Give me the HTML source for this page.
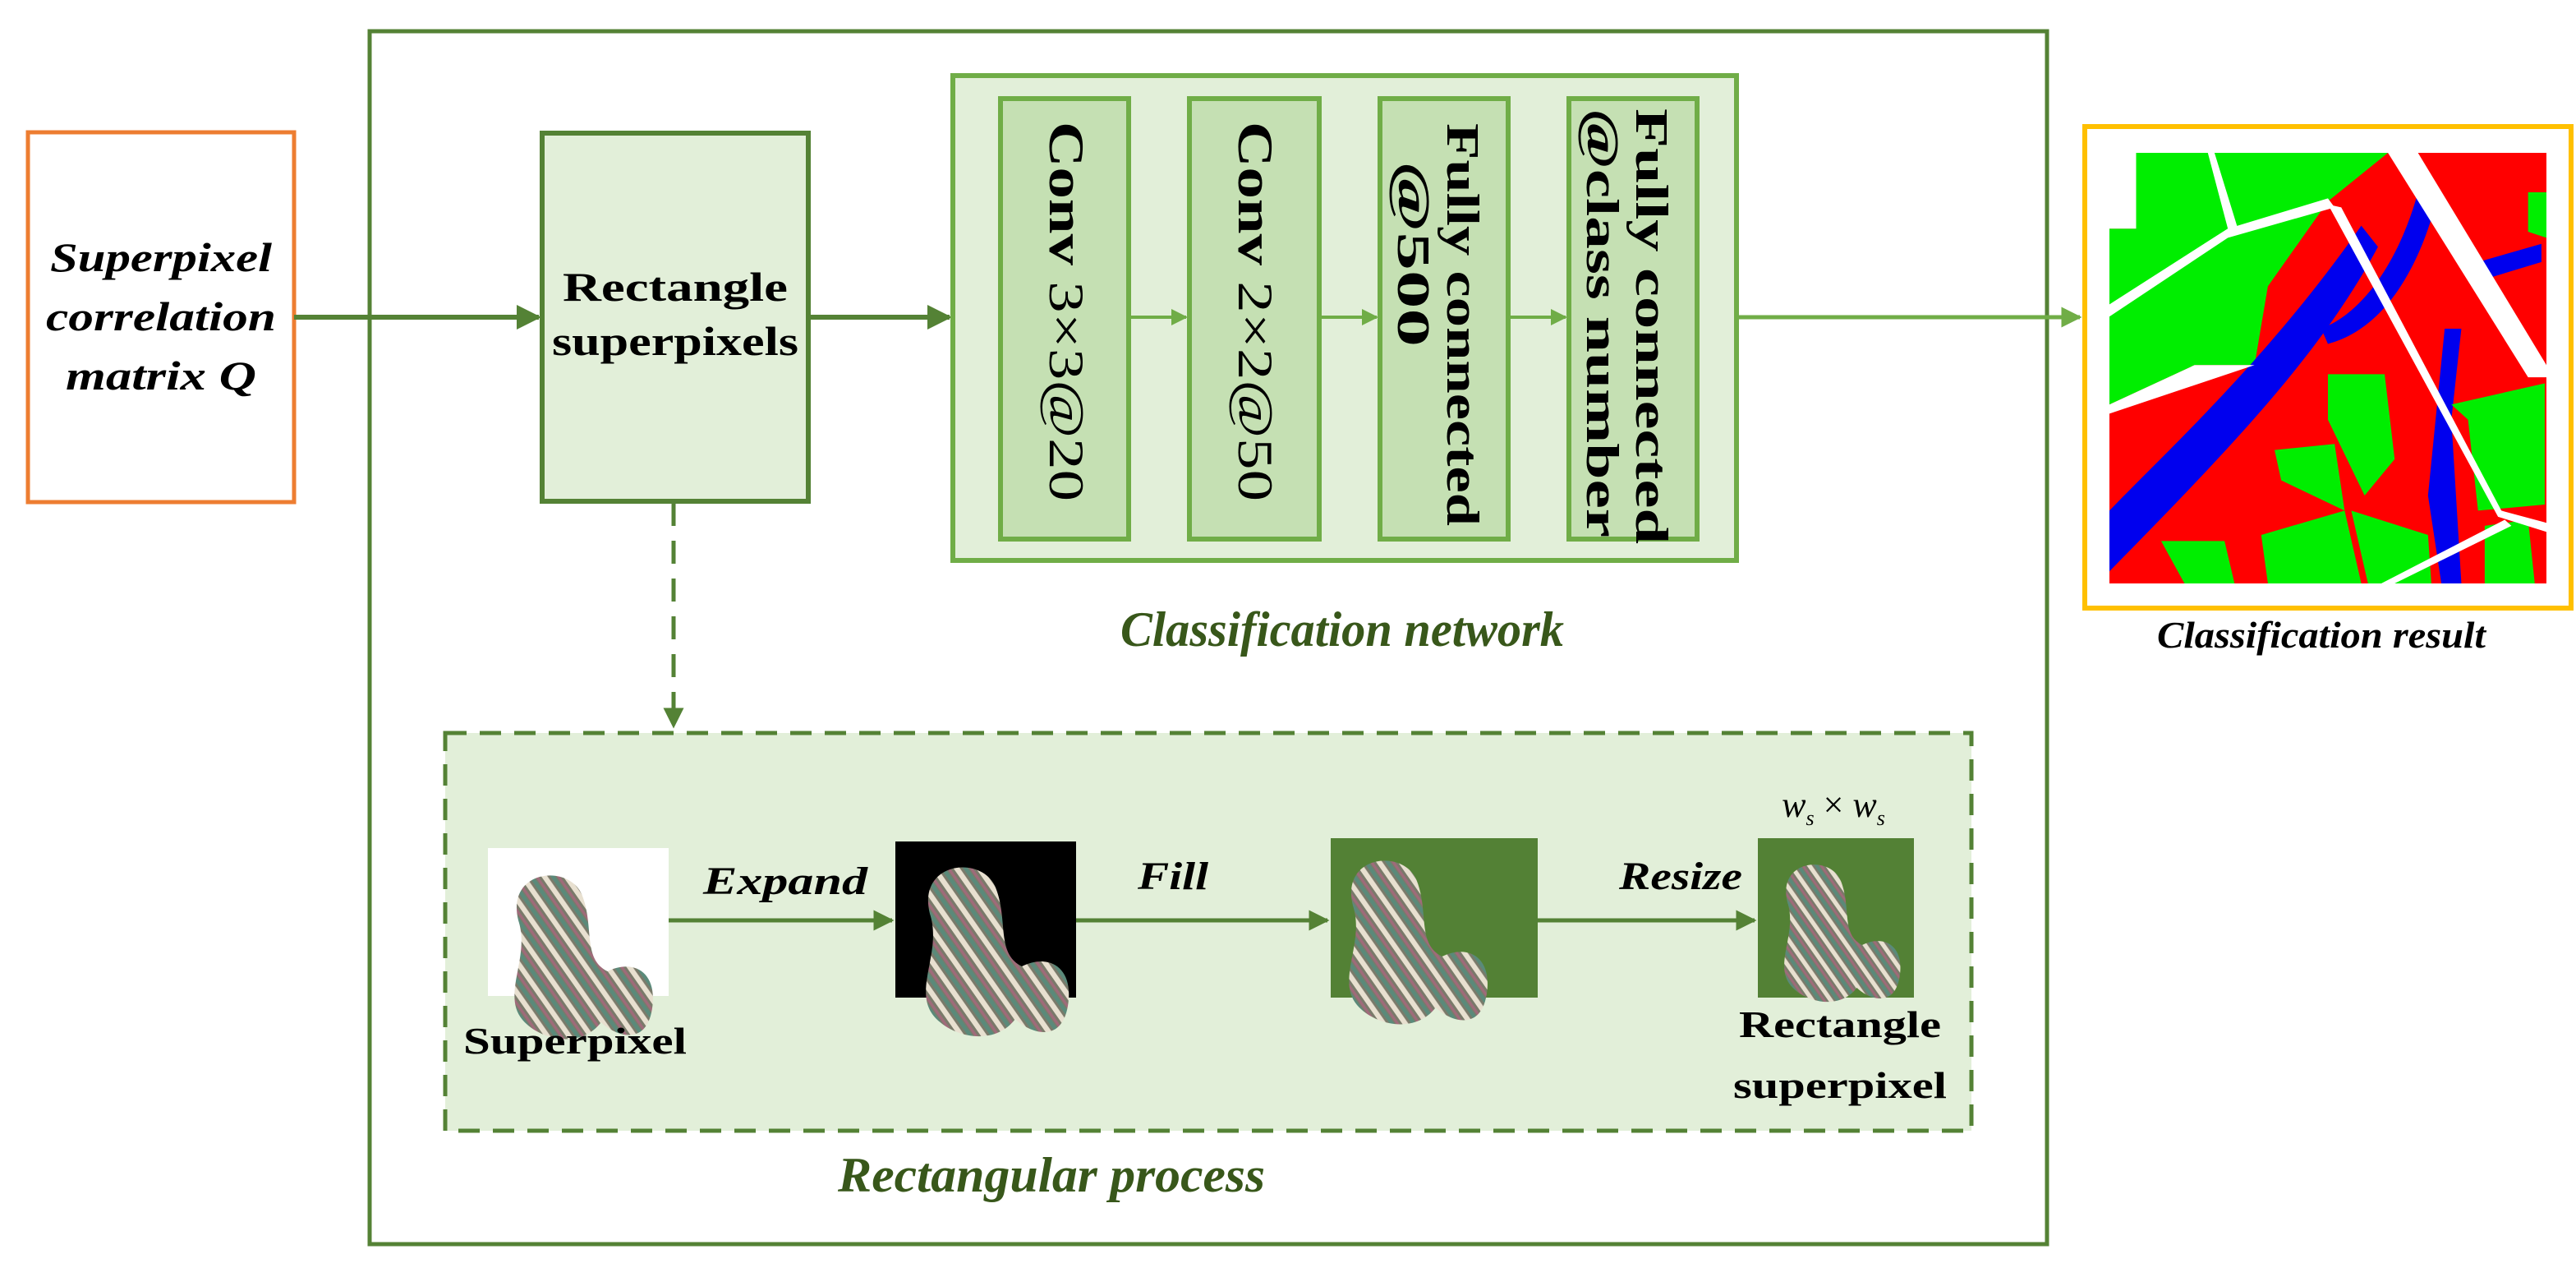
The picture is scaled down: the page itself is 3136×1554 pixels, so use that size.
<!DOCTYPE html>
<html><head><meta charset="utf-8"><style>html,body{margin:0;padding:0;background:#fff}svg{display:block}</style></head>
<body>
<svg width="3136" height="1554" viewBox="0 0 3136 1554" xmlns="http://www.w3.org/2000/svg" font-family="Liberation Serif, serif">
<defs>
<marker id="ah" viewBox="0 0 10 10" refX="9" refY="5" markerWidth="5" markerHeight="5" orient="auto" markerUnits="strokeWidth"><path d="M0,0L10,5L0,10z" fill="#548235"/></marker>
<marker id="ah2" viewBox="0 0 10 10" refX="9" refY="5" markerWidth="5" markerHeight="5" orient="auto" markerUnits="strokeWidth"><path d="M0,0L10,5L0,10z" fill="#70ad47"/></marker>
<pattern id="tex" width="14" height="14" patternUnits="userSpaceOnUse" patternTransform="rotate(-35)">
<rect width="14" height="14" fill="#7a7a6a"/><rect width="4" height="14" fill="#e8e0d0"/><rect x="6" width="3" height="14" fill="#5a8a7a"/><rect x="10" width="2" height="14" fill="#a06a7a"/></pattern>
<path id="blob" d="M20,40 C10,0 60,-5 70,20 C80,45 70,70 90,80 C110,70 130,80 125,110 C120,140 95,130 85,120 C70,140 40,135 25,120 C5,100 30,70 20,40 Z"/>
</defs>

<rect x="34" y="161" width="324" height="450" fill="#fff" stroke="#ed7d31" stroke-width="5"/>
<g font-style="italic" font-weight="bold" font-size="50" text-anchor="middle" fill="#000">
<text x="196" y="330" textLength="270" lengthAdjust="spacingAndGlyphs">Superpixel</text>
<text x="196" y="402" textLength="280" lengthAdjust="spacingAndGlyphs">correlation</text>
<text x="196" y="474" textLength="232" lengthAdjust="spacingAndGlyphs">matrix Q</text>
</g>

<rect x="450" y="38" width="2042" height="1476" fill="none" stroke="#548235" stroke-width="5"/>

<line x1="358" y1="386" x2="656" y2="386" stroke="#548235" stroke-width="6" marker-end="url(#ah)"/>

<rect x="660" y="162" width="324" height="448" fill="#e2efd9" stroke="#548235" stroke-width="6"/>
<g font-weight="bold" font-size="50" text-anchor="middle">
<text x="822" y="366" textLength="274" lengthAdjust="spacingAndGlyphs">Rectangle</text>
<text x="822" y="432" textLength="300" lengthAdjust="spacingAndGlyphs">superpixels</text>
</g>
<line x1="984" y1="386" x2="1156" y2="386" stroke="#548235" stroke-width="6" marker-end="url(#ah)"/>

<rect x="1160" y="92" width="954" height="590" fill="#e2efd9" stroke="#70ad47" stroke-width="6"/>
<g fill="#c5e0b3" stroke="#70ad47" stroke-width="6">
<rect x="1218" y="120" width="156" height="536"/>
<rect x="1448" y="120" width="158" height="536"/>
<rect x="1680" y="120" width="156" height="536"/>
<rect x="1910" y="120" width="156" height="536"/>
</g>
<g stroke="#70ad47" stroke-width="4">
<line x1="1376" y1="386" x2="1444" y2="386" marker-end="url(#ah2)"/>
<line x1="1608" y1="386" x2="1676" y2="386" marker-end="url(#ah2)"/>
<line x1="1838" y1="386" x2="1906" y2="386" marker-end="url(#ah2)"/>
</g>
<g font-size="60" fill="#000">
<text transform="translate(1278,148) rotate(90)" textLength="462" lengthAdjust="spacingAndGlyphs"><tspan font-weight="bold">Conv</tspan>  3×3@20</text>
<text transform="translate(1508,148) rotate(90)" textLength="462" lengthAdjust="spacingAndGlyphs"><tspan font-weight="bold">Conv</tspan>  2×2@50</text>
<text transform="translate(1762,150) rotate(90)" font-weight="bold" font-size="56" textLength="490" lengthAdjust="spacingAndGlyphs">Fully connected</text>
<text transform="translate(1702,196) rotate(90)" font-weight="bold" font-size="56" textLength="226" lengthAdjust="spacingAndGlyphs">@500</text>
<text transform="translate(1992,132) rotate(90)" font-weight="bold" font-size="56" textLength="530" lengthAdjust="spacingAndGlyphs">Fully connected</text>
<text transform="translate(1932,132) rotate(90)" font-weight="bold" font-size="56" textLength="522" lengthAdjust="spacingAndGlyphs">@class number</text>
</g>
<text x="1634" y="786" font-size="60" font-style="italic" font-weight="bold" fill="#38571a" text-anchor="middle" textLength="540" lengthAdjust="spacingAndGlyphs">Classification network</text>

<line x1="2114" y1="386" x2="2532" y2="386" stroke="#70ad47" stroke-width="5" marker-end="url(#ah2)"/>

<rect x="2538" y="154" width="592" height="586" fill="#fff" stroke="#ffc000" stroke-width="6"/>
<svg x="2568" y="186" width="532" height="524" viewBox="125 120 1310 1420" preserveAspectRatio="none">
<rect x="125" y="120" width="1310" height="1420" fill="#ff0000"/>
<path d="M205,120 L960,120 L780,280 L600,560 L560,820 L380,820 L125,950 L125,370 L205,370 Z" fill="#00ee00"/>
<path d="M125,1300 C300,1100 600,800 880,360 L930,430 C760,780 500,1080 125,1500 Z" fill="#0000ee"/>
<path d="M1050,250 L1100,300 C1050,500 950,700 780,750 L760,700 C900,640 1000,450 1050,250Z" fill="#0000ee"/>
<path d="M1130,700 L1180,700 L1150,1000 L1180,1540 L1120,1540 L1080,1250 Z" fill="#0000ee"/>
<path d="M1230,480 L1420,420 L1420,480 L1240,540Z" fill="#0000ee"/>
<path d="M780,850 L950,850 L980,1130 L890,1250 L780,1000Z M1150,950 L1430,880 L1430,1280 L1230,1300 L1200,1000Z M620,1100 L800,1080 L830,1300 L640,1200Z M280,1400 L350,1540 L500,1540 L470,1400Z M580,1380 L830,1300 L880,1540 L600,1540Z M850,1300 L1080,1380 L1090,1540 L900,1540Z M1250,1350 L1380,1330 L1400,1540 L1250,1540Z M1380,250 L1435,250 L1435,400 L1380,380Z" fill="#00ee00"/>
<path d="M420,120 L440,120 L510,370 L125,640 L125,620 L480,370Z" fill="#fff"/>
<path d="M960,120 L1050,120 L1435,820 L1435,860 L1380,860 Z" fill="#fff"/>
<path d="M780,290 L820,300 L1300,1300 L1435,1340 L1435,1370 L1290,1320 L800,330 Z" fill="#fff"/>
<path d="M125,620 L480,370 L780,270 L800,300 L480,400 L125,660Z" fill="#fff"/>
<path d="M380,820 L560,820 L125,980 L125,950Z" fill="#fff"/>
<path d="M940,1540 L1310,1330 L1330,1350 L980,1540Z" fill="#fff"/>
<path d="M125,120 L205,120 L205,370 L125,370Z" fill="#fff"/>
</svg>
<text x="2826" y="788" font-size="46" font-style="italic" font-weight="bold" text-anchor="middle" textLength="400" lengthAdjust="spacingAndGlyphs">Classification result</text>

<line x1="820" y1="612" x2="820" y2="884" stroke="#548235" stroke-width="5" stroke-dasharray="28,18" marker-end="url(#ah)"/>

<rect x="542" y="892" width="1858" height="484" fill="#e2efd9" stroke="#548235" stroke-width="5" stroke-dasharray="26,16"/>

<rect x="594" y="1032" width="220" height="180" fill="#fff"/>
<g transform="translate(600,1058) scale(1.55)" fill="url(#tex)"><use href="#blob"/></g>
<rect x="1090" y="1024" width="220" height="190" fill="#000"/>
<g transform="translate(1100,1048) scale(1.6)" fill="url(#tex)"><use href="#blob"/></g>
<rect x="1620" y="1020" width="252" height="194" fill="#538135"/>
<g transform="translate(1616,1040) scale(1.55)" fill="url(#tex)"><use href="#blob"/></g>
<rect x="2140" y="1020" width="190" height="194" fill="#538135"/>
<g transform="translate(2150,1046) scale(1.3)" fill="url(#tex)"><use href="#blob"/></g>

<g stroke="#548235" stroke-width="5">
<line x1="814" y1="1120" x2="1086" y2="1120" marker-end="url(#ah)"/>
<line x1="1310" y1="1120" x2="1616" y2="1120" marker-end="url(#ah)"/>
<line x1="1872" y1="1120" x2="2136" y2="1120" marker-end="url(#ah)"/>
</g>
<g font-style="italic" font-weight="bold" font-size="48" text-anchor="middle">
<text x="956" y="1088" textLength="200" lengthAdjust="spacingAndGlyphs">Expand</text>
<text x="1428" y="1082" textLength="86" lengthAdjust="spacingAndGlyphs">Fill</text>
<text x="2046" y="1082" textLength="150" lengthAdjust="spacingAndGlyphs">Resize</text>
</g>
<text x="2232" y="994" font-size="44" font-style="italic" text-anchor="middle">w<tspan font-size="26" dy="10">s</tspan><tspan dy="-10" font-style="normal"> × </tspan>w<tspan font-size="26" dy="10">s</tspan></text>
<g font-weight="bold" font-size="46" text-anchor="middle">
<text x="700" y="1282" textLength="272" lengthAdjust="spacingAndGlyphs">Superpixel</text>
<text x="2240" y="1262" textLength="246" lengthAdjust="spacingAndGlyphs">Rectangle</text>
<text x="2240" y="1336" textLength="260" lengthAdjust="spacingAndGlyphs">superpixel</text>
</g>
<text x="1280" y="1450" font-size="60" font-style="italic" font-weight="bold" fill="#38571a" text-anchor="middle" textLength="520" lengthAdjust="spacingAndGlyphs">Rectangular process</text>
</svg>
</body></html>
